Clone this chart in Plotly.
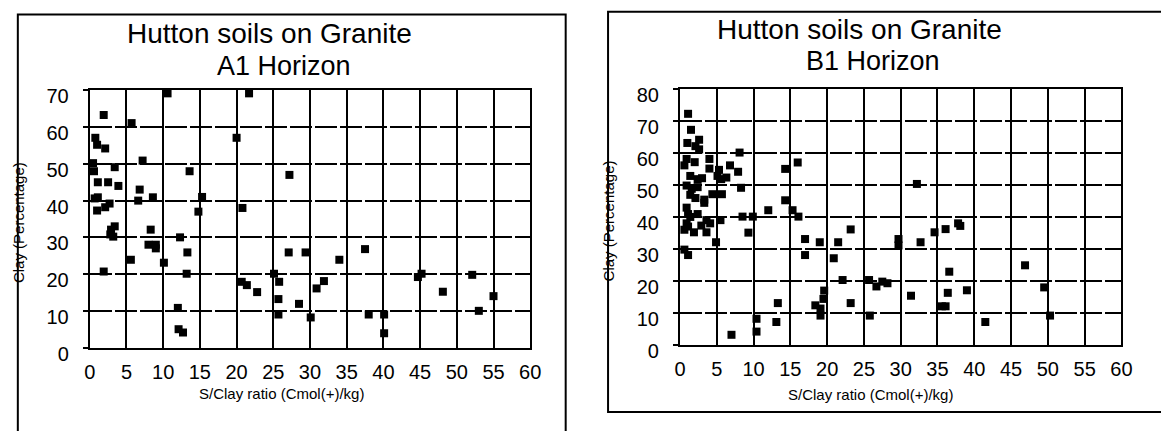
import plotly.graph_objects as go

# Hutton soils on granite: S/Clay ratio (Cmol(+)/kg) against clay (%)
a1_ratio = [0.45, 0.58, 0.67, 0.76, 1.0, 1.0, 1.1, 1.1, 1.9, 1.9, 2.1, 2.1, 2.5, 2.7,
            2.8, 2.9, 3.2, 3.4, 3.4, 3.9, 5.6, 5.7, 6.6, 6.8, 7.2, 8.0, 8.3, 8.6, 9.0,
            9.0, 10.1, 10.6, 12.0, 12.1, 12.3, 12.7, 13.2, 13.3, 13.6, 14.8, 15.3,
            20.0, 20.7, 20.8, 21.4, 21.7, 22.8, 25.1, 25.7, 25.7, 25.8, 27.1, 27.2,
            28.5, 29.4, 30.1, 30.9, 31.9, 34.0, 37.5, 38.0, 40.1, 40.1, 44.7, 45.2,
            48.1, 52.1, 53.0, 55.0]
a1_clay = [50.2, 48, 40.6, 57.1, 55.2, 37.3, 45, 40.9, 63.3, 20.7, 54.2, 38.2, 45, 39.2,
           30.8, 32.1, 30.2, 49.1, 33, 44, 23.9, 61.1, 40, 43, 50.9, 28, 32.1, 40.9, 28,
           27, 23.1, 69.2, 10.8, 5, 30, 4.1, 20.1, 25.9, 48, 37, 41,
           57.1, 17.9, 38, 17, 69.2, 15.1, 20.1, 13.2, 9, 17.9, 25.9, 47,
           11.9, 25.9, 8.2, 16.1, 18.1, 23.9, 26.8, 9, 9, 3.9, 19.2, 20.1,
           15.2, 19.8, 10, 14]

b1_ratio = [1.1, 1.5, 1.0, 2.6, 2.1, 2.6, 0.9, 0.6, 2.0, 4.0, 4.0, 1.4, 2.4, 3.0, 0.9,
            1.6, 2.4, 1.4, 2.1, 3.3, 3.3, 4.4, 5.3, 5.1, 5.6, 6.3, 5.7, 6.8, 7.9, 8.1,
            8.3, 8.5, 9.9, 9.3, 0.9, 1.1, 1.4, 0.9, 1.1, 0.6, 2.4, 1.9, 3.6, 4.1, 3.6,
            2.9, 5.5, 4.9, 0.6, 1.1, 12.0, 14.3, 14.3, 16.0, 15.3, 16.1, 17.0, 17.0,
            19.0, 21.5, 20.9, 23.2, 22.1, 13.3, 13.1, 10.4, 10.4, 7.0, 18.4, 19.1,
            19.1, 19.5, 19.6, 23.2, 25.7, 25.8, 26.7, 27.5, 28.2, 29.7, 29.7, 31.4,
            32.2, 32.7, 34.6, 36.1, 37.8, 38.1, 36.6, 36.4, 35.6, 36.1, 39.0, 41.5,
            46.9, 49.5, 50.3, 60.1]
b1_clay = [72.1, 67.1, 63, 64, 62, 61, 58, 56, 57, 58, 55, 52.7, 51.7, 52, 49.7,
           48.7, 49.2, 46.8, 45.8, 45.3, 44.3, 47, 54.6, 52.7, 51.7, 52.2, 47, 56, 54, 60,
           49, 40, 40, 35, 42.8, 40.8, 39.9, 37.9, 36.9, 35.9, 40.8, 35.1, 38.9, 37.9, 35.1,
           37.2, 38.9, 32, 29.7, 28, 42, 54.9, 45.1, 56.9, 42, 40, 33, 28,
           32, 32, 27, 36, 20.2, 13, 7.1, 8.1, 4.1, 3.1, 12.3, 11.3,
           9.1, 14.3, 16.9, 13, 20.2, 9.1, 18.2, 19.7, 19.2, 33, 31, 15.3,
           50.2, 32, 35.1, 36.1, 37.9, 37.1, 22.8, 16.2, 12, 12, 17, 7.1,
           24.8, 17.9, 9.1, 12]

x_ticks = list(range(0, 61, 5))
W, H = 1161, 431
FONT = "Liberation Sans, Arial, sans-serif"


def px(x):
    return x / W


def py(y):
    return 1 - y / H


fig = go.Figure()
fig.add_trace(go.Scatter(x=a1_ratio, y=a1_clay, mode="markers", xaxis="x", yaxis="y",
                         marker=dict(symbol="square", size=8, color="black"),
                         cliponaxis=False, showlegend=False))
fig.add_trace(go.Scatter(x=b1_ratio, y=b1_clay, mode="markers", xaxis="x2", yaxis="y2",
                         marker=dict(symbol="square", size=8, color="black"),
                         cliponaxis=False, showlegend=False))

xcommon = dict(range=[0, 60], tickvals=x_ticks, showgrid=True, gridcolor="black",
               gridwidth=2, showline=True, linecolor="black", linewidth=2, mirror=True,
               ticks="", zeroline=False, tickfont=dict(size=20, color="black", family=FONT),
               ticklabelstandoff=5)
ycommon = dict(dtick=10, showgrid=True, gridcolor="black", gridwidth=2,
               griddash="22px,3px", showline=True, linecolor="black", linewidth=2,
               mirror=True, ticks="outside", ticklen=5, tickcolor="black", tickwidth=2,
               zeroline=False, tickfont=dict(size=20, color="black", family=FONT),
               ticklabelshift=6, ticklabelstandoff=10)

fig.update_layout(
    width=W, height=H, autosize=False,
    margin=dict(l=0, r=0, t=0, b=0),
    paper_bgcolor="white", plot_bgcolor="white",
    font=dict(family=FONT, color="black"),
    xaxis=dict(domain=[px(85), px(532)], anchor="y", **xcommon),
    yaxis=dict(domain=[py(361), py(90)], anchor="x", range=[0, 70], **ycommon),
    xaxis2=dict(domain=[px(684), px(1132)], anchor="y2", **xcommon),
    yaxis2=dict(domain=[py(358), py(88)], anchor="x2", range=[0, 80], **ycommon),
)

# panel frames
fig.add_shape(type="rect", xref="paper", yref="paper", x0=px(12), x1=px(568),
              y0=-0.05, y1=py(10), line=dict(color="black", width=2))
fig.add_shape(type="rect", xref="paper", yref="paper", x0=px(611), x1=1.02,
              y0=py(429), y1=py(7), line=dict(color="black", width=2))

texts = [
    ("Hutton soils on Granite", 267, 30, 28, 0),
    ("A1 Horizon", 282, 64, 27, 0),
    ("Hutton soils on Granite", 866, 26, 28, 0),
    ("B1 Horizon", 880, 59, 27, 0),
    ("S/Clay ratio (Cmol(+)/kg)", 280, 409, 15, 0),
    ("S/Clay ratio (Cmol(+)/kg)", 877, 410, 15, 0),
    ("Clay (Percentage)", 13, 229, 15, -90),
    ("Clay (Percentage)", 611, 228, 15, -90),
]
for t, x, y, s, ang in texts:
    fig.add_annotation(text=t, xref="paper", yref="paper", x=px(x), y=py(y),
                       xanchor="center", yanchor="middle", showarrow=False,
                       textangle=ang, font=dict(size=s, color="black", family=FONT))

fig.write_html("out.html")
